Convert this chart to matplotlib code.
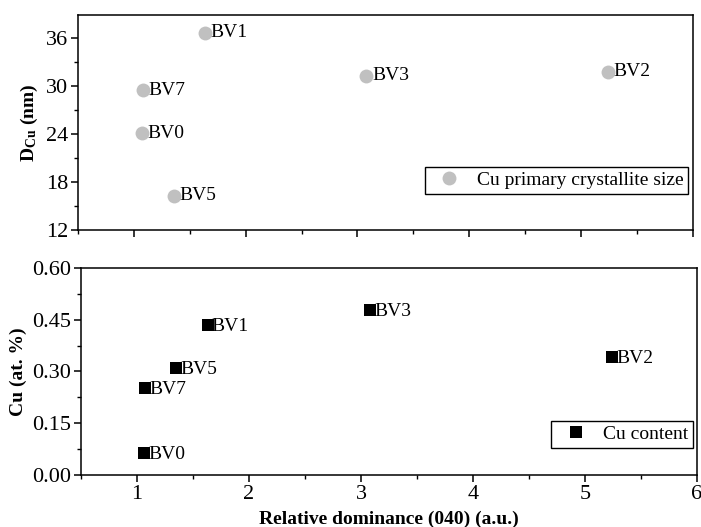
import matplotlib
matplotlib.use("Agg")
import matplotlib.pyplot as plt
from matplotlib.ticker import MultipleLocator

plt.rcParams['font.family'] = ['Liberation Serif', 'DejaVu Serif']
plt.rcParams['mathtext.fontset'] = 'custom'
plt.rcParams['mathtext.rm'] = 'Liberation Serif'
plt.rcParams['mathtext.bf'] = 'Liberation Serif:bold'

# Samples and their relative (040) dominance
samples_top = ["BV1", "BV7", "BV0", "BV5", "BV3", "BV2"]
dominance_top = [1.64, 1.08, 1.07, 1.36, 3.08, 5.24]
crystallite_size = [36.7, 29.5, 24.1, 16.3, 31.3, 31.8]

samples_bot = ["BV1", "BV5", "BV7", "BV0", "BV3", "BV2"]
dominance_bot = [1.63, 1.35, 1.07, 1.065, 3.08, 5.24]
cu_content = [0.435, 0.311, 0.253, 0.063, 0.478, 0.341]

top_yticks = [12, 18, 24, 30, 36]
bot_yticks = [0.00, 0.15, 0.30, 0.45, 0.60]
xticks = [1, 2, 3, 4, 5, 6]

fig = plt.figure(figsize=(7.01, 5.27), dpi=100)
ax1 = fig.add_axes([0.111, 0.5636, 0.8776, 0.4079])
ax2 = fig.add_axes([0.1155, 0.0987, 0.8788, 0.3928])

fs = 14
tick_fs = 16

def style(ax):
    for s in ax.spines.values():
        s.set_linewidth(1.1)
    ax.tick_params(which='major', direction='out', length=5, width=1.1,
                   labelsize=tick_fs, pad=2, top=False, right=False)
    ax.tick_params(which='minor', direction='out', length=3, width=1.0,
                   top=False, right=False)
    ax.xaxis.set_minor_locator(MultipleLocator(0.5))

legend_kw = dict(loc='lower right', fontsize=fs, frameon=True, fancybox=False,
                 edgecolor='black', framealpha=1, borderpad=0.25,
                 handletextpad=0.4, handlelength=2.0, borderaxespad=0)

# Upper panel: crystallite size
ax1.plot(dominance_top, crystallite_size, 'o', color='#c0c0c0', markersize=10,
         markeredgewidth=0, label='Cu primary crystallite size')
for name, x, y in zip(samples_top, dominance_top, crystallite_size):
    ax1.annotate(name, (x, y), xytext=(4, 0), textcoords='offset points',
                 va='center', ha='left', fontsize=fs)
ax1.set_xlim(0.5, 6)
ax1.set_ylim(12, 38.9)
ax1.set_xticks(xticks)
ax1.set_yticks(top_yticks)
ax1.yaxis.set_minor_locator(MultipleLocator(3))
ax1.tick_params(labelbottom=False)
style(ax1)
ax1.set_ylabel(r'$\mathbf{D_{Cu}}$ (nm)', fontsize=fs, fontweight='bold', labelpad=4)
leg1 = ax1.legend(bbox_to_anchor=(0.992, 0.167), **legend_kw)
leg1.get_frame().set_linewidth(1.0)

# Lower panel: Cu content
ax2.plot(dominance_bot, cu_content, 's', color='black', markersize=8.5,
         markeredgewidth=0, label='Cu content')
for name, x, y in zip(samples_bot, dominance_bot, cu_content):
    ax2.annotate(name, (x, y), xytext=(3, -1), textcoords='offset points',
                 va='center', ha='left', fontsize=fs)
ax2.set_xlim(0.5, 6)
ax2.set_ylim(0, 0.6)
ax2.set_xticks(xticks)
ax2.set_yticks(bot_yticks)
ax2.set_yticklabels([f"{v:.2f}" for v in bot_yticks])
ax2.yaxis.set_minor_locator(MultipleLocator(0.075))
style(ax2)
ax2.set_ylabel('Cu (at. %)', fontsize=fs, fontweight='bold', labelpad=4)
ax2.set_xlabel('Relative dominance (040) (a.u.)', fontsize=fs, fontweight='bold',
               labelpad=5)
leg2 = ax2.legend(bbox_to_anchor=(0.9935, 0.13), **legend_kw)
leg2.get_frame().set_linewidth(1.0)

fig.savefig('out.png', dpi=100)
